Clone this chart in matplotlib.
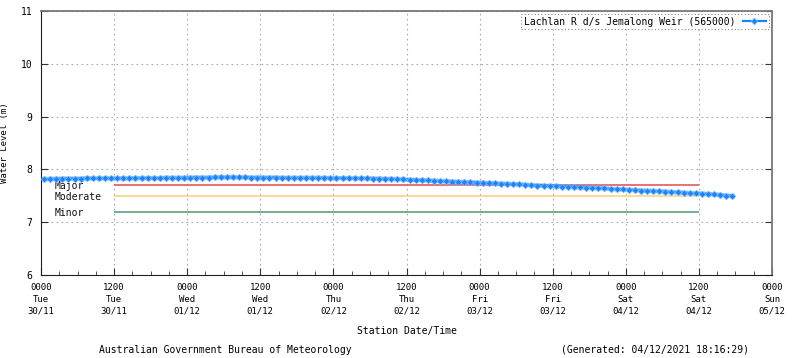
import numpy as np
import matplotlib
matplotlib.use("Agg")
import matplotlib.pyplot as plt
from matplotlib.ticker import MultipleLocator

# ── Data ──────────────────────────────────────────────────────────────────────
# hours since 0000 Tue 30/11
hours = np.arange(0.5, 114.5, 1.0)
level_m = [
    7.815, 7.82, 7.82, 7.825, 7.825, 7.825, 7.825, 7.83, 7.83, 7.83,
    7.83, 7.83, 7.83, 7.83, 7.83, 7.835, 7.835, 7.835, 7.835, 7.835,
    7.84, 7.84, 7.84, 7.84, 7.845, 7.845, 7.845, 7.845, 7.85, 7.85,
    7.85, 7.85, 7.85, 7.85, 7.845, 7.845, 7.845, 7.845, 7.845, 7.84,
    7.84, 7.84, 7.84, 7.84, 7.84, 7.84, 7.84, 7.835, 7.835, 7.835,
    7.835, 7.83, 7.83, 7.83, 7.825, 7.825, 7.82, 7.82, 7.815, 7.81,
    7.805, 7.80, 7.795, 7.79, 7.785, 7.78, 7.775, 7.77, 7.765, 7.76,
    7.755, 7.75, 7.745, 7.74, 7.735, 7.73, 7.725, 7.72, 7.715, 7.71,
    7.70, 7.695, 7.69, 7.685, 7.68, 7.675, 7.67, 7.665, 7.66, 7.655,
    7.65, 7.645, 7.64, 7.63, 7.625, 7.62, 7.615, 7.61, 7.60, 7.595,
    7.59, 7.585, 7.58, 7.57, 7.565, 7.56, 7.55, 7.545, 7.54, 7.535,
    7.525, 7.515, 7.505, 7.495,
]

flood_names = ["Major", "Moderate", "Minor"]
flood_levels = [7.7, 7.5, 7.2]
flood_colors = ["#e8585a", "#f7d583", "#5aa37a"]
flood_span = (12, 108)

tick_hours = list(range(0, 121, 12))
tick_labels = [
    "0000\nTue\n30/11", "1200\nTue\n30/11", "0000\nWed\n01/12", "1200\nWed\n01/12",
    "0000\nThu\n02/12", "1200\nThu\n02/12", "0000\nFri\n03/12", "1200\nFri\n03/12",
    "0000\nSat\n04/12", "1200\nSat\n04/12", "0000\nSun\n05/12",
]

series_name = "Lachlan R d/s Jemalong Weir (565000)"

# ── Plot ──────────────────────────────────────────────────────────────────────
FONT = "DejaVu Sans Mono"
FS = 6.5

fig = plt.figure(figsize=(8.0, 3.58), dpi=100)
ax = fig.add_axes([41 / 800, 1 - 275 / 358, 731 / 800, 264 / 358])

ax.set_xlim(0, 120)
ax.set_ylim(6, 11)

ax.set_xticks(tick_hours)
ax.set_xticklabels(tick_labels, fontsize=FS, family=FONT, linespacing=1.35)
ax.xaxis.set_minor_locator(MultipleLocator(3))
ax.yaxis.set_major_locator(MultipleLocator(1))
for lab in ax.get_yticklabels():
    lab.set_fontsize(FS + 0.5)
    lab.set_family(FONT)

ax.tick_params(axis="both", which="both", direction="in", color="#333333")
ax.tick_params(axis="x", which="major", length=5, pad=6)
ax.tick_params(axis="x", which="minor", length=3)
ax.tick_params(axis="y", which="major", length=5, pad=6, right=True)
ax.tick_params(axis="y", which="minor", left=False, right=False)

ax.grid(True, which="major", linestyle=(0, (1.5, 3)), color="#aaaaaa", linewidth=0.8)

for side in ["left", "bottom"]:
    ax.spines[side].set_color("#222222")
for side in ["top", "right"]:
    ax.spines[side].set_color("#777777")
    ax.spines[side].set_linewidth(1.3)

# flood classification lines
for name, lvl, col in zip(flood_names, flood_levels, flood_colors):
    ax.hlines(lvl, flood_span[0], flood_span[1], color=col, linewidth=1.2, zorder=2)
    ax.text(2.2, lvl - 0.02, name, fontsize=FS + 0.5, family=FONT,
            va="center", ha="left", color="#111111")

ax.plot(hours, level_m, color="#2a8cf5", linewidth=3.2, alpha=0.55, zorder=3)
ax.plot(hours, level_m, color="#1a84ff", linewidth=1.6, marker="D",
        markersize=3.4, markeredgewidth=0.5, markeredgecolor="#7dbcff",
        label=series_name, zorder=4)

leg = ax.legend(loc="upper right", prop={"family": FONT, "size": FS + 0.5},
                handlelength=2.4, borderpad=0.25, borderaxespad=0.35,
                fancybox=False, framealpha=1, markerfirst=False)
leg.get_frame().set_linestyle((0, (1, 2)))
leg.get_frame().set_edgecolor("#888888")
leg.get_frame().set_linewidth(0.8)

ax.set_ylabel("Water Level (m)", fontsize=FS, family=FONT)
ax.yaxis.set_label_coords(-32 / 731, 0.5)
ax.set_xlabel("Station Date/Time", fontsize=FS + 0.5, family=FONT, labelpad=8)

fig.text(225 / 800, 1 - 350 / 358, "Australian Government Bureau of Meteorology",
         fontsize=FS + 0.5, family=FONT, ha="center", va="center")
fig.text(655 / 800, 1 - 350 / 358, "(Generated: 04/12/2021 18:16:29)",
         fontsize=FS + 0.5, family=FONT, ha="center", va="center")

fig.savefig("out.png", dpi=100, facecolor="white")
